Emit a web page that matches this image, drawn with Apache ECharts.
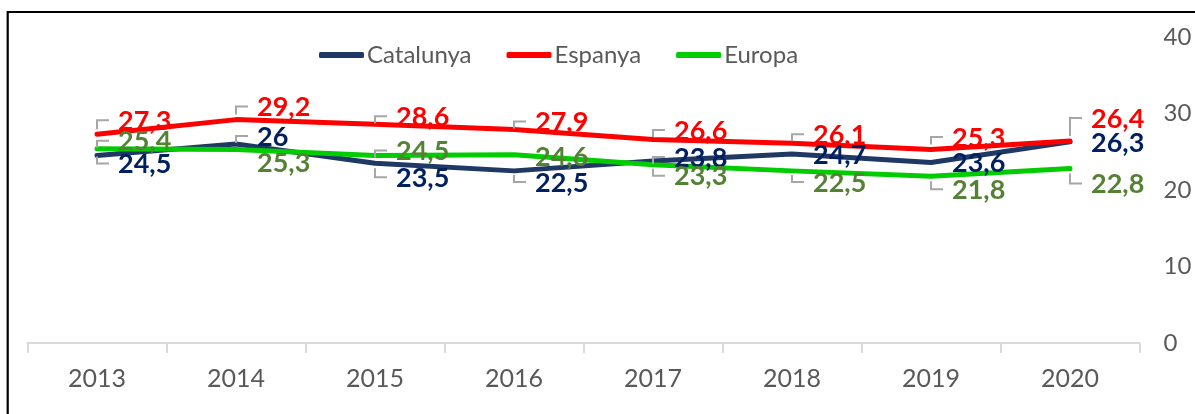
<!DOCTYPE html>
<html>
<head>
<meta charset="utf-8">
<script src="https://cdn.jsdelivr.net/npm/echarts@6/dist/echarts.min.js"></script>
<style>
html,body{margin:0;padding:0;background:#fff;}
#chart{width:1195px;height:414px;}
</style>
</head>
<body>
<div id="chart"></div>
<script>
// ---- data ----
const categories = ['2013','2014','2015','2016','2017','2018','2019','2020'];
const catalunya = [24.5, 26, 23.5, 22.5, 23.8, 24.7, 23.6, 26.3];
const espanya   = [27.3, 29.2, 28.6, 27.9, 26.6, 26.1, 25.3, 26.4];
const europa    = [25.4, 25.3, 24.5, 24.6, 23.3, 22.5, 21.8, 22.8];
const seriesNames = ['Catalunya', 'Espanya', 'Europa'];

// ---- label layout (pixel offsets of data labels, leader flags) ----
const catDy = [8, -8, 14, 11, -4, 0, 0, 0];
const espDy = [-14, -13, -8, -8, -9.5, -9, -12.5, -23];
const eurDy = [-8, 13, -5, 1, 11, 11, 13, 15];
const catLeader = [1,1,1,1,1,0,0,0];
const espLeader = [1,1,1,1,1,1,1,1];
const eurLeader = [1,0,1,0,1,1,1,1];

const fmt = v => String(v).replace('.', ',');

function labelSeries(name, values, dys, leaders, color) {
  return {
    type: 'custom',
    name: name + ' labels',
    silent: true,
    z: 10,
    data: values.map((v, i) => [i, v]),
    renderItem: function (params, api) {
      const i = params.dataIndex;
      const p = api.coord([api.value(0), api.value(1)]);
      const dy = dys[i];
      const ly = p[1] + dy;
      const children = [{
        type: 'text',
        style: {
          text: fmt(api.value(1)),
          x: p[0] + 21, y: ly + 1,
          fill: color,
          font: 'bold 27px Lato',
          align: 'left', verticalAlign: 'middle'
        }
      }];
      if (leaders[i]) {
        const s = dy < 0 ? -1 : 1;
        const len = Math.max(Math.abs(dy) - 5, 7);
        children.push({
          type: 'polyline',
          shape: { points: [[p[0], ly - s * len], [p[0], ly], [p[0] + 12, ly]] },
          style: { stroke: '#A6A6A6', lineWidth: 2, fill: null }
        });
      }
      return { type: 'group', children: children };
    }
  };
}

function lineSeries(name, values, color) {
  return {
    type: 'line',
    name: name,
    data: values,
    symbol: 'none',
    lineStyle: { color: color, width: 5, cap: 'round', join: 'round' },
    itemStyle: { color: color },
    z: 3
  };
}

const chart = echarts.init(document.getElementById('chart'), null, { renderer: 'canvas' });
chart.setOption({
  animation: false,
  backgroundColor: '#ffffff',
  graphic: [{
    type: 'rect',
    shape: { x: 7.7, y: 12, width: 1300, height: 500 },
    style: { fill: null, stroke: '#000000', lineWidth: 2.2 },
    z: 100, silent: true
  }],
  legend: {
    data: seriesNames,
    left: 314, top: 38,
    itemWidth: 45, itemHeight: 6, itemGap: 35,
    icon: 'roundRect',
    textStyle: { color: '#595959', fontSize: 24, fontFamily: 'Lato', padding: [0, 0, 0, -2] }
  },
  grid: { left: 27.5, right: 55.5, top: 37, bottom: 71, containLabel: false },
  xAxis: {
    type: 'category',
    data: categories,
    boundaryGap: true,
    axisLine: { show: true, lineStyle: { color: '#D9D9D9', width: 2 } },
    axisTick: { show: true, interval: 0, length: 10, lineStyle: { color: '#D9D9D9', width: 2 } },
    axisLabel: { color: '#595959', fontSize: 25, fontFamily: 'Lato', margin: 23, interval: 0 },
    splitLine: { show: false }
  },
  yAxis: {
    type: 'value',
    position: 'right',
    min: 0, max: 40, interval: 10,
    axisLine: { show: false },
    axisTick: { show: false },
    splitLine: { show: false },
    axisLabel: { color: '#595959', fontSize: 24, fontFamily: 'Lato', margin: 24, align: 'left' }
  },
  series: [
    lineSeries('Catalunya', catalunya, '#203864'),
    lineSeries('Espanya', espanya, '#FF0000'),
    lineSeries('Europa', europa, '#00CC00'),
    labelSeries('Catalunya', catalunya, catDy, catLeader, '#002060'),
    labelSeries('Espanya', espanya, espDy, espLeader, '#FF0000'),
    labelSeries('Europa', europa, eurDy, eurLeader, '#548235')
  ]
});
</script>
</body>
</html>
